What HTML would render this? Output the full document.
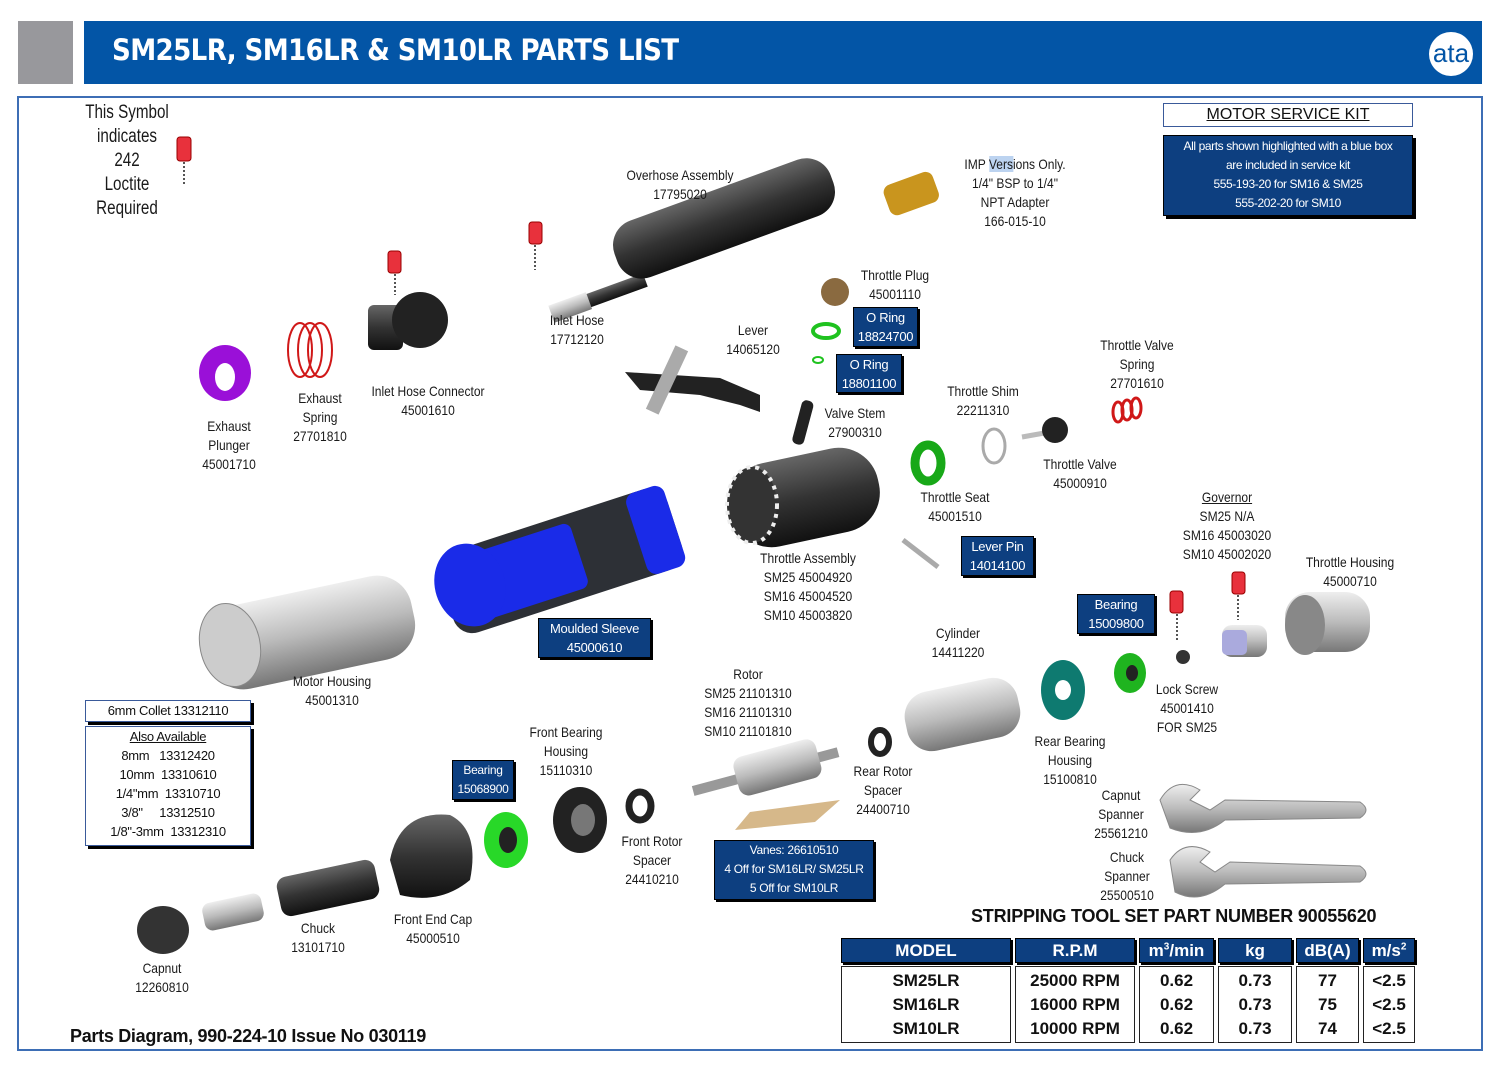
<!DOCTYPE html>
<html><head><meta charset="utf-8"><style>
*{margin:0;padding:0;box-sizing:border-box}
body{width:1509px;height:1066px;background:#fff;position:relative;overflow:hidden;font-family:"Liberation Sans",sans-serif;color:#111}
.a{position:absolute}
.l{position:absolute;transform:translateX(-50%) scaleX(0.86);text-align:center;font-size:14px;line-height:19px;white-space:nowrap;color:#1a1a1a}
.b{position:absolute;background:#0d3f80;color:#fff;text-align:center;font-size:13px;line-height:19px;border:1px solid #000;box-shadow:2px 2px 0 #000;white-space:nowrap;letter-spacing:-0.3px}
.w{position:absolute;background:#fff;border:1.5px solid #3a5a9a;box-shadow:3px 3px 0 #000;text-align:center;font-size:13px;line-height:19px;letter-spacing:-0.3px}
table{position:absolute;left:837px;top:935px;border-collapse:separate;border-spacing:4px 3px;font-family:"Liberation Sans",sans-serif;font-weight:bold}
th{background:#0d3f80;color:#fff;font-size:17px;height:25px;border:1px solid #000;box-shadow:2px 2px 0 #000}
td{border:1.5px solid #222;font-size:17px;line-height:24px;text-align:center;vertical-align:top;padding-top:2px}
</style></head><body>
<div class="a" style="left:18px;top:21px;width:55px;height:63px;background:#98989c"></div>
<div class="a" style="left:84px;top:21px;width:1398px;height:63px;background:#0355a6"></div>
<div class="a" style="left:112px;top:33px;color:#fff;font-family:'DejaVu Sans Condensed','Liberation Sans',sans-serif;font-weight:bold;font-size:29px;letter-spacing:-0.6px">SM25LR, SM16LR &amp; SM10LR PARTS LIST</div>
<div class="a" style="left:1429px;top:32px;width:44px;height:44px;border-radius:50%;background:#fff;color:#0355a6;font-size:26px;line-height:42px;text-align:center;font-family:'Liberation Sans',sans-serif">ata</div>
<div class="a" style="left:17px;top:96px;width:1466px;height:955px;border:2px solid #3d6eb5"></div>

<svg class="a" style="left:0;top:0" width="1509" height="1066">
<defs>
<linearGradient id="g1" x1="0" y1="0" x2="0" y2="1"><stop offset="0" stop-color="#eee"/><stop offset=".5" stop-color="#bbb"/><stop offset="1" stop-color="#777"/></linearGradient>
<linearGradient id="gd" x1="0" y1="0" x2="0" y2="1"><stop offset="0" stop-color="#666"/><stop offset=".5" stop-color="#333"/><stop offset="1" stop-color="#111"/></linearGradient>
</defs>
<g fill="#e8313c" stroke="#900"><rect x="177" y="137" width="14" height="24" rx="3"/><rect x="388" y="251" width="13" height="22" rx="3"/><rect x="529" y="222" width="13" height="22" rx="3"/><rect x="1170" y="591" width="13" height="22" rx="3"/><rect x="1232" y="572" width="13" height="22" rx="3"/></g>
<g stroke="#555" stroke-dasharray="2 2" stroke-width="2"><line x1="184" y1="162" x2="184" y2="186"/><line x1="395" y1="274" x2="395" y2="295"/><line x1="535" y1="245" x2="535" y2="270"/><line x1="1177" y1="614" x2="1177" y2="640"/><line x1="1238" y1="595" x2="1238" y2="620"/></g>
<g transform="translate(0,-18) rotate(-20 720 240)"><rect x="560" y="262" width="70" height="14" fill="url(#gd)"/><rect x="610" y="208" width="230" height="60" rx="26" fill="url(#gd)"/><rect x="530" y="260" width="40" height="18" fill="url(#g1)"/></g>
<rect x="885" y="178" width="52" height="32" rx="8" fill="#c9951e" transform="rotate(-20 910 193)"/>
<circle cx="835" cy="292" r="14" fill="#8a6a40"/>
<ellipse cx="826" cy="331" rx="13" ry="7" fill="none" stroke="#1fc21f" stroke-width="4"/>
<ellipse cx="818" cy="360" rx="5" ry="3" fill="none" stroke="#1fc21f" stroke-width="2"/>
<path d="M625 372 L720 378 L760 395 L760 412 L740 405 L700 395 L640 390Z" fill="#222"/>
<rect x="660" y="345" width="14" height="70" fill="#aaa" transform="rotate(25 667 380)"/>
<rect x="368" y="305" width="35" height="45" rx="6" fill="url(#gd)"/><circle cx="420" cy="320" r="28" fill="#222"/>
<g fill="none" stroke="#d01818" stroke-width="2"><ellipse cx="300" cy="350" rx="12" ry="27"/><ellipse cx="310" cy="350" rx="12" ry="27"/><ellipse cx="320" cy="350" rx="12" ry="27"/></g>
<ellipse cx="225" cy="373" rx="26" ry="28" fill="#9a10d8"/><ellipse cx="225" cy="377" rx="10" ry="14" fill="#fff"/>
<rect x="797" y="400" width="12" height="45" rx="5" fill="#222" transform="rotate(15 803 422)"/>
<rect x="730" y="455" width="150" height="85" rx="40" fill="url(#gd)" transform="rotate(-12 805 497)"/>
<ellipse cx="752" cy="505" rx="25" ry="38" fill="#333" stroke="#eee" stroke-dasharray="4 5" stroke-width="4"/>
<ellipse cx="928" cy="463" rx="13" ry="18" fill="none" stroke="#18a818" stroke-width="9"/>
<ellipse cx="994" cy="446" rx="11" ry="17" fill="none" stroke="#aaa" stroke-width="3"/>
<line x1="1022" y1="437" x2="1050" y2="432" stroke="#bbb" stroke-width="5"/><circle cx="1055" cy="430" r="13" fill="#222"/>
<g fill="none" stroke="#d01818" stroke-width="3"><ellipse cx="1118" cy="412" rx="5" ry="10"/><ellipse cx="1127" cy="410" rx="5" ry="10"/><ellipse cx="1136" cy="408" rx="5" ry="10"/></g>
<g transform="rotate(-18 555 560)"><rect x="440" y="520" width="240" height="85" rx="20" fill="#2d3036"/><rect x="470" y="528" width="110" height="68" rx="8" fill="#1a2be8"/><rect x="640" y="520" width="40" height="85" rx="10" fill="#1a2be8"/></g>
<ellipse cx="470" cy="585" rx="35" ry="42" fill="#1a2be8" transform="rotate(-18 470 585)"/>
<line x1="903" y1="540" x2="938" y2="567" stroke="#aaa" stroke-width="5"/>
<rect x="205" y="590" width="210" height="85" rx="35" fill="url(#g1)" transform="rotate(-12 310 632)"/>
<ellipse cx="230" cy="645" rx="30" ry="42" fill="#ccc" stroke="#888" transform="rotate(-12 230 645)"/>
<rect x="905" y="685" width="115" height="60" rx="25" fill="url(#g1)" transform="rotate(-12 960 715)"/>
<g transform="rotate(-15 760 770)"><rect x="690" y="768" width="150" height="10" fill="#999"/><rect x="735" y="752" width="85" height="40" rx="10" fill="url(#g1)"/></g>
<path d="M735 830 L750 812 L840 800 L815 822Z" fill="#d6b88a"/>
<ellipse cx="880" cy="742" rx="9" ry="12" fill="none" stroke="#222" stroke-width="6"/>
<ellipse cx="1063" cy="690" rx="22" ry="30" fill="#0e7a70"/><ellipse cx="1063" cy="690" rx="8" ry="10" fill="#fff"/>
<ellipse cx="1130" cy="673" rx="16" ry="20" fill="#1fb41f"/><ellipse cx="1132" cy="673" rx="6" ry="8" fill="#222"/>
<circle cx="1183" cy="657" r="7" fill="#333"/>
<rect x="1222" y="625" width="45" height="32" rx="10" fill="url(#g1)"/><rect x="1222" y="630" width="25" height="25" rx="5" fill="#aad"/>
<rect x="1285" y="592" width="85" height="60" rx="25" fill="url(#g1)"/><ellipse cx="1305" cy="625" rx="20" ry="30" fill="#888"/>
<ellipse cx="640" cy="806" rx="11" ry="14" fill="none" stroke="#222" stroke-width="7"/>
<ellipse cx="580" cy="820" rx="27" ry="33" fill="#222"/><ellipse cx="583" cy="820" rx="12" ry="16" fill="#777"/>
<ellipse cx="506" cy="840" rx="22" ry="28" fill="#28d828"/><ellipse cx="508" cy="840" rx="9" ry="13" fill="#222"/>
<path d="M390 860 Q400 810 450 815 Q480 830 470 880 Q440 905 400 895Z" fill="url(#gd)"/>
<rect x="278" y="868" width="100" height="40" rx="10" fill="url(#gd)" transform="rotate(-12 328 888)"/>
<rect x="203" y="898" width="60" height="28" rx="8" fill="url(#g1)" transform="rotate(-12 233 912)"/>
<ellipse cx="163" cy="930" rx="26" ry="24" fill="#333"/>
<path d="M1160 800 Q1175 775 1200 790 L1190 800 L1210 810 L1225 800 L1360 802 Q1372 810 1360 818 L1225 820 Q1200 840 1170 828 Z" fill="url(#g1)" stroke="#888"/>
<path d="M1170 860 Q1185 838 1210 852 L1200 862 L1215 872 L1230 862 L1360 866 Q1372 874 1360 882 L1225 884 Q1200 905 1175 892 Z" fill="url(#g1)" stroke="#888"/>
</svg>

<div class="l" style="left:127px;top:101px;font-size:19px;line-height:24px;transform:translateX(-50%) scaleX(0.8)">This Symbol<br>indicates<br>242<br>Loctite<br>Required</div>
<div class="l" style="left:680px;top:166px">Overhose Assembly<br>17795020</div>
<div class="l" style="left:1015px;top:155px">IMP <span style="background:#bcd3f0">Vers</span>ions Only.<br>1/4" BSP to 1/4"<br>NPT Adapter<br>166-015-10</div>
<div class="l" style="left:895px;top:266px">Throttle Plug<br>45001110</div>
<div class="b" style="left:853px;top:307px;width:65px;height:40px">O Ring<br>18824700</div>
<div class="b" style="left:836px;top:354px;width:66px;height:39px">O Ring<br>18801100</div>
<div class="l" style="left:753px;top:321px">Lever<br>14065120</div>
<div class="l" style="left:577px;top:311px">Inlet Hose<br>17712120</div>
<div class="l" style="left:428px;top:382px">Inlet Hose Connector<br>45001610</div>
<div class="l" style="left:320px;top:389px">Exhaust<br>Spring<br>27701810</div>
<div class="l" style="left:229px;top:417px">Exhaust<br>Plunger<br>45001710</div>
<div class="l" style="left:855px;top:404px">Valve Stem<br>27900310</div>
<div class="l" style="left:983px;top:382px">Throttle Shim<br>22211310</div>
<div class="l" style="left:1137px;top:336px">Throttle Valve<br>Spring<br>27701610</div>
<div class="l" style="left:1080px;top:455px">Throttle Valve<br>45000910</div>
<div class="l" style="left:955px;top:488px">Throttle Seat<br>45001510</div>
<div class="l" style="left:808px;top:549px">Throttle Assembly<br>SM25 45004920<br>SM16 45004520<br>SM10 45003820</div>
<div class="b" style="left:961px;top:536px;width:73px;height:40px">Lever Pin<br>14014100</div>
<div class="l" style="left:1227px;top:488px"><u>Governor</u><br>SM25 N/A<br>SM16 45003020<br>SM10 45002020</div>
<div class="l" style="left:1350px;top:553px">Throttle Housing<br>45000710</div>
<div class="b" style="left:1077px;top:594px;width:78px;height:40px">Bearing<br>15009800</div>
<div class="b" style="left:538px;top:618px;width:113px;height:40px">Moulded Sleeve<br>45000610</div>
<div class="l" style="left:332px;top:672px">Motor Housing<br>45001310</div>
<div class="l" style="left:958px;top:624px">Cylinder<br>14411220</div>
<div class="l" style="left:748px;top:665px">Rotor<br>SM25 21101310<br>SM16 21101310<br>SM10 21101810</div>
<div class="l" style="left:1187px;top:680px">Lock Screw<br>45001410<br>FOR SM25</div>
<div class="l" style="left:1070px;top:732px">Rear Bearing<br>Housing<br>15100810</div>
<div class="l" style="left:883px;top:762px">Rear Rotor<br>Spacer<br>24400710</div>
<div class="w" style="left:85px;top:700px;width:166px;height:22px;line-height:19px">6mm Collet 13312110</div>
<div class="w" style="left:85px;top:726px;width:166px;height:120px;line-height:19px"><u>Also Available</u><br>8mm&nbsp;&nbsp; 13312420<br>10mm&nbsp; 13310610<br>1/4"mm&nbsp; 13310710<br>3/8"&nbsp;&nbsp;&nbsp;&nbsp; 13312510<br>1/8"-3mm&nbsp; 13312310</div>
<div class="l" style="left:566px;top:723px">Front Bearing<br>Housing<br>15110310</div>
<div class="b" style="left:452px;top:760px;width:62px;height:40px;font-size:12px">Bearing<br>15068900</div>
<div class="l" style="left:652px;top:832px">Front Rotor<br>Spacer<br>24410210</div>
<div class="b" style="left:714px;top:840px;width:160px;height:60px;font-size:12px">Vanes: 26610510<br>4 Off for SM16LR/ SM25LR<br>5 Off for SM10LR</div>
<div class="l" style="left:1121px;top:786px">Capnut<br>Spanner<br>25561210</div>
<div class="l" style="left:1127px;top:848px">Chuck<br>Spanner<br>25500510</div>
<div class="l" style="left:318px;top:919px">Chuck<br>13101710</div>
<div class="l" style="left:433px;top:910px">Front End Cap<br>45000510</div>
<div class="l" style="left:162px;top:959px">Capnut<br>12260810</div>
<div class="a" style="left:1163px;top:103px;width:250px;height:24px;border:1.5px solid #3a5a9a;text-align:center;font-size:16px;line-height:22px"><u>MOTOR SERVICE KIT</u></div>
<div class="b" style="left:1163px;top:135px;width:250px;height:81px;font-size:12px;line-height:19px;padding-top:1px;box-shadow:3px 3px 0 #000;letter-spacing:-0.4px">All parts shown highlighted with a blue box<br>are included in service kit<br>555-193-20 for SM16 &amp; SM25<br>555-202-20 for SM10</div>
<div class="a" style="left:971px;top:906px;font-family:'Liberation Sans',sans-serif;font-weight:bold;font-size:18px;letter-spacing:-0.2px">STRIPPING TOOL SET PART NUMBER 90055620</div>
<table>
<tr><th style="width:170px">MODEL</th><th style="width:120px">R.P.M</th><th style="width:75px">m<sup style="font-size:10px">3</sup>/min</th><th style="width:74px">kg</th><th style="width:63px">dB(A)</th><th style="width:52px">m/s<sup style="font-size:10px">2</sup></th></tr>
<tr><td style="height:77px">SM25LR<br>SM16LR<br>SM10LR</td><td>25000 RPM<br>16000 RPM<br>10000 RPM</td><td>0.62<br>0.62<br>0.62</td><td>0.73<br>0.73<br>0.73</td><td>77<br>75<br>74</td><td>&lt;2.5<br>&lt;2.5<br>&lt;2.5</td></tr>
</table>
<div class="a" style="left:70px;top:1026px;font-family:'Liberation Sans',sans-serif;font-weight:bold;font-size:18px;letter-spacing:-0.3px">Parts Diagram, 990-224-10 Issue No 030119</div>
</body></html>
